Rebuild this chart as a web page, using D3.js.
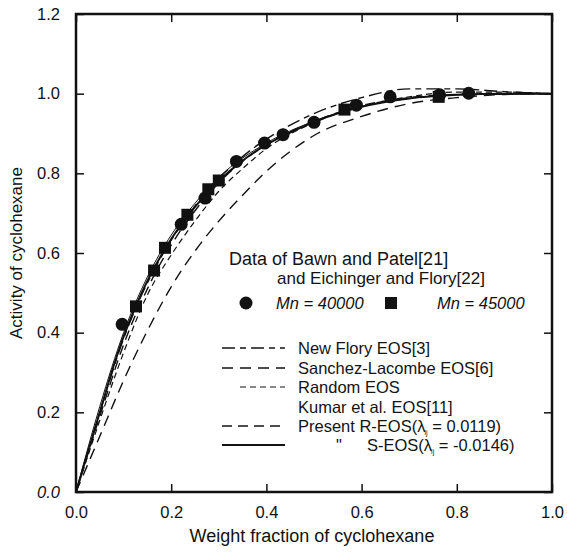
<!DOCTYPE html>
<meta charset="utf-8">
<script src="https://cdn.jsdelivr.net/npm/d3@7"></script>
<style>
  body { margin: 0; background: #fff; }
  text, tspan { font-family: "Liberation Sans", Arial, sans-serif; fill: #111; }
</style>
<div id="chart"></div>
<script>
// data
var circles40000 = [
  [0.097, 0.421], [0.221, 0.672], [0.271, 0.738], [0.337, 0.830],
  [0.396, 0.876], [0.435, 0.897], [0.500, 0.928], [0.589, 0.971],
  [0.660, 0.992], [0.764, 0.997], [0.825, 1.001]
];
var squares45000 = [
  [0.126, 0.466], [0.164, 0.556], [0.187, 0.613], [0.234, 0.696],
  [0.278, 0.760], [0.300, 0.782], [0.564, 0.960], [0.762, 0.992]
];

var curveNewFlory = [
  [0, 0], [0.05, 0.20], [0.10, 0.385], [0.15, 0.525], [0.20, 0.632], [0.25, 0.718],
  [0.30, 0.787], [0.35, 0.842], [0.40, 0.886], [0.45, 0.921], [0.50, 0.950],
  [0.60, 0.990], [0.70, 1.012], [0.80, 1.012], [0.90, 1.005], [1.0, 1.0]
];
var curveSanchez = [
  [0, 0], [0.05, 0.14], [0.10, 0.28], [0.15, 0.405], [0.20, 0.515], [0.25, 0.605],
  [0.30, 0.680], [0.35, 0.745], [0.40, 0.805], [0.45, 0.855], [0.50, 0.895],
  [0.60, 0.943], [0.70, 0.975], [0.80, 0.990], [0.90, 0.998], [1.0, 1.0]
];
var curveRandom = [
  [0, 0], [0.05, 0.18], [0.10, 0.35], [0.15, 0.495], [0.20, 0.595], [0.25, 0.680],
  [0.30, 0.755], [0.35, 0.812], [0.40, 0.862], [0.50, 0.927], [0.60, 0.968],
  [0.70, 0.992], [0.80, 1.004], [0.90, 1.004], [1.0, 1.0]
];
var curveKumar = [
  [0, 0], [0.05, 0.215], [0.10, 0.400], [0.15, 0.540], [0.20, 0.645], [0.25, 0.725],
  [0.30, 0.790], [0.40, 0.876], [0.50, 0.931], [0.60, 0.968], [0.70, 0.988],
  [0.80, 0.997], [1.0, 1.0]
];
var curveREOS = [
  [0, 0], [0.05, 0.19], [0.10, 0.37], [0.15, 0.510], [0.20, 0.620], [0.25, 0.706],
  [0.30, 0.776], [0.35, 0.830], [0.40, 0.872], [0.50, 0.930], [0.60, 0.970],
  [0.70, 0.990], [0.80, 0.998], [1.0, 1.0]
];
var curveSEOS = [
  [0, 0], [0.02, 0.08], [0.05, 0.20], [0.08, 0.32], [0.10, 0.39], [0.125, 0.465],
  [0.15, 0.530], [0.20, 0.635], [0.25, 0.716], [0.30, 0.781], [0.35, 0.832],
  [0.40, 0.872], [0.45, 0.902], [0.50, 0.929], [0.60, 0.967], [0.70, 0.988],
  [0.80, 0.997], [0.90, 1.0], [1.0, 1.0]
];

var xTicks = [0, 0.2, 0.4, 0.6, 0.8, 1.0];
var yTicks = [0, 0.2, 0.4, 0.6, 0.8, 1.0, 1.2];

var legendNames = [
  "New Flory EOS[3]", "Sanchez-Lacombe EOS[6]", "Random EOS",
  "Kumar et al. EOS[11]", "Present R-EOS(\u03bb", "S-EOS(\u03bb"
];

var W = 567, H = 557;
var margin = {top: 14, right: 15, bottom: 65, left: 76};
var width = W - margin.left - margin.right,
    height = H - margin.top - margin.bottom;

var svg = d3.select("#chart").append("svg")
    .attr("width", W).attr("height", H);
var g = svg.append("g")
    .attr("transform", "translate(" + margin.left + "," + margin.top + ")");

var x = d3.scaleLinear().domain([0, 1]).range([0, width]);
var y = d3.scaleLinear().domain([0, 1.2]).range([height, 0]);

// axes with inward ticks
var fmt = d3.format(".1f");
g.append("g").attr("transform", "translate(0," + height + ")")
  .call(d3.axisBottom(x).tickValues(xTicks).tickSize(-8).tickPadding(14).tickFormat(fmt))
  .call(function(a) { a.select(".domain").remove(); a.selectAll("text").style("font-size", "16.5px"); });
g.append("g")
  .call(d3.axisLeft(y).tickValues(yTicks).tickSize(-8).tickPadding(16).tickFormat(fmt))
  .call(function(a) { a.select(".domain").remove(); a.selectAll("text").style("font-size", "16.5px")
      .style("font-style", function(d) { return d === 0 ? "italic" : null; }); });
g.append("g")
  .call(d3.axisTop(x).tickValues(xTicks).tickSize(-8).tickFormat(""))
  .call(function(a) { a.select(".domain").remove(); });
g.append("g").attr("transform", "translate(" + width + ",0)")
  .call(d3.axisRight(y).tickValues(yTicks).tickSize(-8).tickFormat(""))
  .call(function(a) { a.select(".domain").remove(); });
g.selectAll(".tick line").attr("stroke", "#111").attr("stroke-width", 1.5);

g.append("rect")
  .attr("width", width).attr("height", height)
  .attr("fill", "none").attr("stroke", "#111").attr("stroke-width", 2.5);

// model curves
var line = d3.line()
  .x(function(d) { return x(d[0]); })
  .y(function(d) { return y(d[1]); })
  .curve(d3.curveMonotoneX);

var styles = [
  {data: curveNewFlory, dash: "13,5,6,5", w: 1.4},
  {data: curveSanchez, dash: "11,7", w: 1.4},
  {data: curveRandom, dash: "6,4", w: 1.2},
  {data: curveKumar, dash: null, w: 1},
  {data: curveREOS, dash: "10,6", w: 1.4},
  {data: curveSEOS, dash: null, w: 2}
];
styles.forEach(function(s) {
  g.append("path").datum(s.data)
    .attr("d", line)
    .attr("fill", "none").attr("stroke", "#111")
    .attr("stroke-width", s.w)
    .attr("stroke-dasharray", s.dash);
});

// data points
g.selectAll(".pc").data(circles40000).enter().append("circle")
  .attr("cx", function(d) { return x(d[0]); })
  .attr("cy", function(d) { return y(d[1]); })
  .attr("r", 6.5).attr("fill", "#111");
g.selectAll(".ps").data(squares45000).enter().append("rect")
  .attr("x", function(d) { return x(d[0]) - 6; })
  .attr("y", function(d) { return y(d[1]) - 6; })
  .attr("width", 12).attr("height", 12).attr("fill", "#111");

// axis titles
svg.append("text")
  .attr("x", margin.left + width / 2 - 2).attr("y", 542)
  .attr("text-anchor", "middle").style("font-size", "18px")
  .text("Weight fraction of cyclohexane");
svg.append("text")
  .attr("transform", "translate(22," + (margin.top + height / 2) + ") rotate(-90)")
  .attr("text-anchor", "middle").style("font-size", "17px")
  .text("Activity of cyclohexane");

// legend
var lg = svg.append("g").style("font-size", "16.5px").style("opacity", 0.99);
lg.append("text").attr("x", 229).attr("y", 265).style("font-size", "18px").text("Data of Bawn and Patel[21]");
lg.append("text").attr("x", 277).attr("y", 284).style("font-size", "17px").text("and Eichinger and Flory[22]");
lg.append("circle").attr("cx", 246).attr("cy", 303).attr("r", 6.5).attr("fill", "#111");
lg.append("text").attr("x", 276).attr("y", 309).style("font-style", "italic").text("Mn = 40000");
lg.append("rect").attr("x", 385).attr("y", 297).attr("width", 12).attr("height", 12).attr("fill", "#111");
lg.append("text").attr("x", 437).attr("y", 309).style("font-style", "italic").text("Mn = 45000");

var rowY = [348, 368, 387, 407, 426, 445];
styles.forEach(function(s, i) {
  if (i !== 3) {
    lg.append("line")
      .attr("x1", i === 2 ? 240 : 222).attr("x2", 285)
      .attr("y1", rowY[i]).attr("y2", rowY[i])
      .attr("stroke", "#111").attr("stroke-width", s.w)
      .attr("stroke-dasharray", s.dash);
  }
  var t = lg.append("text").attr("x", i === 5 ? 367 : 298).attr("y", rowY[i] + 6);
  t.append("tspan").text(legendNames[i]);
  if (i >= 4) {
    t.append("tspan").attr("dy", 3).attr("dx", -1).style("font-size", "7px").text("ij");
    t.append("tspan").attr("dy", -3).text(i === 4 ? " = 0.0119)" : " = -0.0146)");
  }
});
lg.append("text").attr("x", 336).attr("y", rowY[5] + 6).text("\"");
</script>
